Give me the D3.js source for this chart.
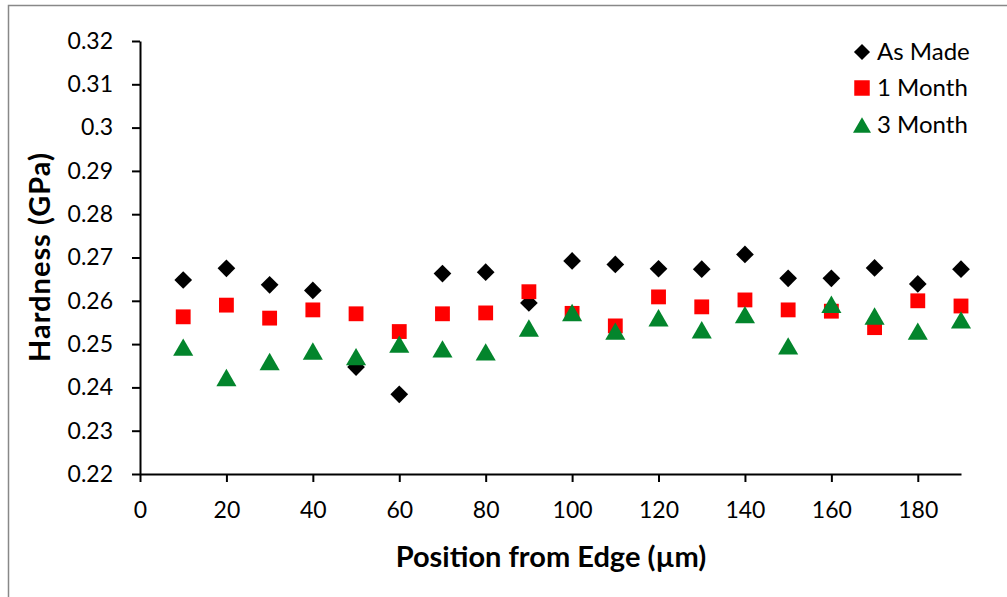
<!DOCTYPE html>
<html>
<head>
<meta charset="utf-8">
<script src="https://cdn.jsdelivr.net/npm/d3@7"></script>
<style>
  html, body { margin: 0; padding: 0; background: #fff; }
  svg { display: block; }
  text { font-family: Lato, "Open Sans", sans-serif; fill: #000; }
</style>
</head>
<body>
<svg id="chart" width="1007" height="597"></svg>
<script>
// Nanoindentation hardness across the section, at three ages
const positions = [10, 20, 30, 40, 50, 60, 70, 80, 90, 100, 110, 120, 130, 140, 150, 160, 170, 180, 190];
const asMade   = [0.2648, 0.2675, 0.2637, 0.2624, 0.2447, 0.2384, 0.2663, 0.2666, 0.2595, 0.2692, 0.2684, 0.2674, 0.2673, 0.2707, 0.2652, 0.2652, 0.2676, 0.2639, 0.2673];
const oneMonth = [0.2563, 0.2590, 0.2560, 0.2579, 0.2570, 0.2529, 0.2570, 0.2572, 0.2621, 0.2571, 0.2542, 0.2609, 0.2586, 0.2602, 0.2579, 0.2576, 0.2538, 0.2600, 0.2588];
const threeMonth = [0.2493, 0.2423, 0.2460, 0.2484, 0.2471, 0.2500, 0.2489, 0.2482, 0.2537, 0.2573, 0.2530, 0.2561, 0.2533, 0.2568, 0.2496, 0.2592, 0.2565, 0.2530, 0.2556];

const seriesNames = ["As Made", "1 Month", "3 Month"];
const seriesColors = ["#000000", "#ff0000", "#03852c"];

const xTicks = [0, 20, 40, 60, 80, 100, 120, 140, 160, 180];
const yTicks = [0.22, 0.23, 0.24, 0.25, 0.26, 0.27, 0.28, 0.29, 0.30, 0.31, 0.32];

// triangle centred on its bounding box (rather than its centroid)
const boxTriangle = {
  draw(context, size) {
    const s = Math.sqrt(size * 4 / Math.sqrt(3)); // side length
    const h = s * Math.sqrt(3) / 2;
    context.moveTo(0, -h / 2);
    context.lineTo(s / 2, h / 2);
    context.lineTo(-s / 2, h / 2);
    context.closePath();
  }
};
const seriesSymbols = [d3.symbolDiamond2, d3.symbolSquare, boxTriangle];

const svg = d3.select("#chart");

// outer chart frame
svg.append("rect")
  .attr("x", 8.5).attr("y", 5.5)
  .attr("width", 1020).attr("height", 620)
  .attr("fill", "none").attr("stroke", "#888").attr("stroke-width", 1.5);

const x = d3.scaleLinear().domain([0, 190]).range([140, 961]);
const y = d3.scaleLinear().domain([0.22, 0.32]).range([474, 41]);

// axes
const xAxis = d3.axisBottom(x).tickValues(xTicks).tickSize(8).tickSizeOuter(0).tickPadding(20)
  .tickFormat(d3.format("d"));
const yAxis = d3.axisLeft(y).tickValues(yTicks).tickSize(8).tickSizeOuter(0).tickPadding(19)
  .tickFormat(d => d3.format("")(+d.toFixed(2)));

const gx = svg.append("g").attr("transform", `translate(0,${y(0.22)})`).call(xAxis);
const gy = svg.append("g").attr("transform", `translate(${x(0)},0)`).call(yAxis);

[gx, gy].forEach(g => {
  g.selectAll("path.domain").attr("stroke", "#000").attr("stroke-width", 2);
  g.selectAll(".tick line").attr("stroke", "#000").attr("stroke-width", 2);
  g.selectAll(".tick text").style("font-family", "Lato, sans-serif").style("font-size", "23px").attr("fill", "#000");
});

// axis titles
svg.append("text")
  .attr("x", 551).attr("y", 567)
  .attr("text-anchor", "middle")
  .style("font-size", "29px").style("font-weight", "bold")
  .text("Position from Edge (µm)");

svg.append("text")
  .attr("transform", "translate(50,257) rotate(-90)")
  .attr("text-anchor", "middle")
  .style("font-size", "29px").style("font-weight", "bold")
  .style("letter-spacing", "1px")
  .text("Hardness (GPa)");

// markers
const allSeries = [asMade, oneMonth, threeMonth];
const markerSizes = [200, 220, 175];
allSeries.forEach((vals, i) => {
  const sym = d3.symbol().type(seriesSymbols[i]).size(markerSizes[i]);
  svg.append("g").selectAll("path")
    .data(vals.map((v, j) => ({ x: positions[j], v })))
    .join("path")
    .attr("transform", d => `translate(${x(d.x)},${y(d.v)})`)
    .attr("d", sym)
    .attr("fill", seriesColors[i]);
});

// legend
const legend = svg.append("g");
const legendRows = [52, 88, 125];
const legendSizes = [165, 240, 140];
seriesNames.forEach((name, i) => {
  legend.append("path")
    .attr("transform", `translate(862,${legendRows[i]})`)
    .attr("d", d3.symbol().type(seriesSymbols[i]).size(legendSizes[i]))
    .attr("fill", seriesColors[i]);
  legend.append("text")
    .attr("x", 877).attr("y", legendRows[i] + 8)
    .style("font-size", "24px")
    .text(name);
});
</script>
</body>
</html>
